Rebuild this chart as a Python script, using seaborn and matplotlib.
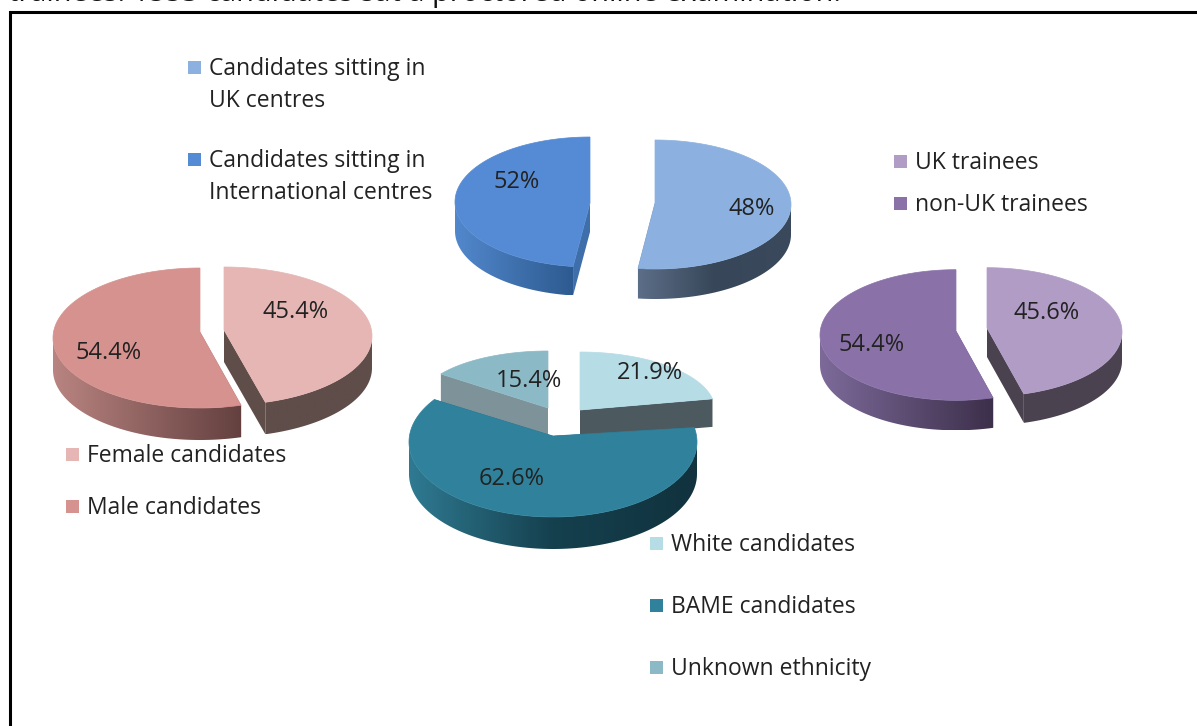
import numpy as np
import seaborn as sns
import matplotlib.pyplot as plt
from matplotlib.patches import Polygon, Rectangle

sns.set_theme(style="white")
plt.rcParams['font.family'] = ['Open Sans', 'DejaVu Sans']

# Data
centre_labels = ["Candidates sitting in\nUK centres", "Candidates sitting in\nInternational centres"]
centre_values = [48, 52]
centre_text = ["48%", "52%"]

sex_labels = ["Female candidates", "Male candidates"]
sex_values = [45.4, 54.4]
sex_text = ["45.4%", "54.4%"]

trainee_labels = ["UK trainees", "non-UK trainees"]
trainee_values = [45.6, 54.4]
trainee_text = ["45.6%", "54.4%"]

ethnicity_labels = ["White candidates", "BAME candidates", "Unknown ethnicity"]
ethnicity_values = [21.9, 62.6, 15.4]
ethnicity_text = ["21.9%", "62.6%", "15.4%"]

caption = "trainees. 1553 candidates sat a proctored online examination."


def ell(cx, cy, rx, ry, a):
    # angle in degrees, clockwise from the top, y axis points down
    a = np.radians(a)
    return cx + rx * np.sin(a), cy - ry * np.cos(a)


def slice3d(ax, cx, cy, rx, ry, apex_y, depth, a0, a1, top, wall, cut, z):
    # cut faces first, the top surface hides the ones facing away
    for a in (a0, a1):
        x, y = ell(cx, cy, rx, ry, a)
        ax.add_patch(Polygon([(cx, apex_y), (x, y), (x, y + depth), (cx, apex_y + depth)],
                             fc=cut, ec="none", zorder=z))
    # outer wall, shaded left to right
    if a1 > 90 and a0 < 270:
        t = np.linspace(max(a0, 90), min(a1, 270), 150)
        xs, ys = ell(cx, cy, rx, ry, t)
        pts = np.r_[np.column_stack([xs, ys]), np.column_stack([xs, ys + depth])[::-1]]
        pal = np.array(sns.blend_palette(wall, 256))[None, :, :]
        im = ax.imshow(pal, extent=(xs.min(), xs.max(), ys.max() + depth, ys.min()),
                       aspect="auto", zorder=z + 0.1)
        im.set_clip_path(Polygon(pts, transform=ax.transData))
    # top surface
    t = np.linspace(a0, a1, 200)
    xs, ys = ell(cx, cy, rx, ry, t)
    pts = np.column_stack([np.r_[cx, xs], np.r_[apex_y, ys]])
    ax.add_patch(Polygon(pts, fc=top, ec=top, lw=0.5, zorder=z + 0.2))


def pct_angles(values):
    # clockwise from the top, rescaled so the slices close the circle
    v = np.array(values, dtype=float)
    return np.r_[0, np.cumsum(v)] / v.sum() * 360


def legend_item(ax, x, y, color, text):
    ax.add_patch(Rectangle((x, y - 6.5), 13, 13, fc=color, ec="none", zorder=6))
    for i, line in enumerate(text.split("\n")):
        ax.text(x + 21, y + 2 + 32 * i, line, fontsize=16.5, color="#222222",
                va="center", ha="left", zorder=6)


fig = plt.figure(figsize=(11.97, 7.26), dpi=100)
ax = fig.add_axes([0, 0, 1, 1])

# caption cut off by the top edge, frame has no right side
ax.text(8, 1.5, caption, fontsize=20.8, color="#111111", va="baseline", ha="left")
ax.plot([10.2, 10.2, 1197], [726, 11.5, 11.5], color="black", lw=2.2,
        solid_joinstyle="miter", zorder=5)

# Top pie, the slices as drawn have the sizes the other way round from their labels
a = pct_angles(centre_values[::-1])
slice3d(ax, 655, 204.5, 136, 64.5, 203, 30, a[0], a[1], "#8cb1e0",
        ["#5c6e88", "#374759", "#3a4a5c"], "#3a4a5c", 1)
slice3d(ax, 590, 202, 135, 65, 203, 29, a[1], a[2], "#558bd5",
        ["#5288cc", "#2d5a90"], "#3f6fab", 1)

# Left pie
a = pct_angles(sex_values)
slice3d(ax, 224, 336, 148, 69, 330, 32, a[0], a[1], "#e5b6b4",
        ["#5f4d4a", "#5f4d4a"], "#5f4d4a", 1)
slice3d(ax, 200, 338, 147, 70, 332, 32, a[1], a[2], "#d6928f",
        ["#b98481", "#63403f"], "#63403f", 1)

# Right pie
a = pct_angles(trainee_values)
slice3d(ax, 987, 332, 135, 64.3, 328, 29, a[0], a[1], "#b09cc5",
        ["#4b4250", "#4b4250"], "#4b4250", 1)
slice3d(ax, 956, 335, 136, 65.3, 331, 30, a[1], a[2], "#8a72a9",
        ["#7d6a9a", "#3c2f4a"], "#3c2f4a", 1)

# Bottom pie, small slices behind the big one
a = pct_angles(ethnicity_values)
slice3d(ax, 580, 410, 135, 58, 410, 28, a[0], a[1], "#b6dce6",
        ["#4c5a5f", "#4c5a5f"], "#4c5a5f", 1)
slice3d(ax, 548, 404, 130, 53, 408, 30, a[2], a[3], "#8cb9c6",
        ["#7e929a", "#7e929a"], "#7e929a", 1)
slice3d(ax, 553, 442, 144, 75, 436, 32, a[1], a[2], "#30829c",
        ["#2f7a92", "#15404e", "#11323e"], "#1c4a5a", 2)

# Percent labels
label_color = "#222222"
for (x, y), t in zip([(752, 207), (517, 180)], centre_text):
    ax.text(x, y + 2, t, fontsize=17, color=label_color, ha="center", va="center", zorder=7)
for (x, y), t in zip([(296, 310), (109, 351)], sex_text):
    ax.text(x, y + 2, t, fontsize=17, color=label_color, ha="center", va="center", zorder=7)
for (x, y), t in zip([(1047, 311), (872, 343)], trainee_text):
    ax.text(x, y + 2, t, fontsize=17, color=label_color, ha="center", va="center", zorder=7)
for (x, y), t in zip([(650, 371), (512, 477), (529, 379)], ethnicity_text):
    ax.text(x, y + 2, t, fontsize=17, color=label_color, ha="center", va="center", zorder=7)

# Legends
legend_item(ax, 188, 67, "#8cb1e0", centre_labels[0])
legend_item(ax, 188, 159, "#558bd5", centre_labels[1])
legend_item(ax, 894, 161, "#b09cc5", trainee_labels[0])
legend_item(ax, 894, 203, "#8a72a9", trainee_labels[1])
legend_item(ax, 66, 454, "#e5b6b4", sex_labels[0])
legend_item(ax, 66, 506, "#d6928f", sex_labels[1])
legend_item(ax, 650, 543, "#b6dce6", ethnicity_labels[0])
legend_item(ax, 650, 605, "#30829c", ethnicity_labels[1])
legend_item(ax, 650, 667, "#8cb9c6", ethnicity_labels[2])

ax.set_xlim(0, 1197)
ax.set_ylim(726, 0)
ax.axis("off")

plt.savefig("out.png", dpi=100)
